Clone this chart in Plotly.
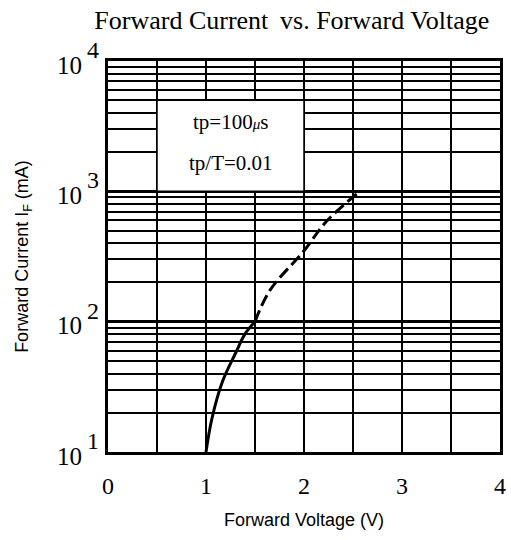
import math
import plotly.graph_objects as go

# ---- data ----
solid_v = [1.0, 1.06, 1.17, 1.30, 1.40, 1.50]
solid_i = [10, 18, 35, 57, 81, 100]
dashed_v = [1.50, 1.65, 2.00, 2.23, 2.57]
dashed_i = [100, 173, 350, 590, 1000]

x_ticks = [0, 1, 2, 3, 4]
y_ticks = [10, 100, 1000, 10000]
y_base = "10"
y_exponents = ["1", "2", "3", "4"]

title_text = "Forward Current \u2009vs. Forward Voltage"
x_title = "Forward Voltage (V)"
y_title = "Forward Current I<sub>F</sub> (mA)"
note_lines = ["tp=100<span style='font-size:15px'><i>\u03bc</i></span>s", "tp/T=0.01"]

SERIF = "Liberation Serif, Times New Roman, serif"
SANS = "Liberation Sans, Arial, sans-serif"

fig = go.Figure()
fig.add_trace(go.Scatter(x=solid_v, y=solid_i, mode="lines",
                         line=dict(color="black", width=3), line_shape="spline",
                         showlegend=False, hoverinfo="skip"))
fig.add_trace(go.Scatter(x=dashed_v, y=dashed_i, mode="lines",
                         line=dict(color="black", width=3, dash="12px,5px"), line_shape="spline",
                         showlegend=False, hoverinfo="skip"))

ymin, ymax = math.log10(y_ticks[0]), math.log10(y_ticks[-1])
def ypaper(v):
    return (math.log10(v) - ymin) / (ymax - ymin)

# white annotation box
fig.add_shape(type="rect", xref="paper", yref="paper",
              x0=0.5 / 4, x1=2.0 / 4, y0=ypaper(1000), y1=ypaper(5000),
              fillcolor="white", line=dict(color="black", width=1.5), layer="above")
fig.add_annotation(x=1.25, y=3.532, xref="x", yref="y", text=note_lines[0], showarrow=False,
                   font=dict(family=SERIF, size=21, color="black"))
fig.add_annotation(x=1.25, y=3.217, xref="x", yref="y", text=note_lines[1], showarrow=False,
                   font=dict(family=SERIF, size=21, color="black"))

# y tick labels as "10" with a full-size raised exponent
for v, e in zip(y_ticks, y_exponents):
    fig.add_annotation(x=0, y=math.log10(v), xref="paper", yref="y", text=y_base,
                       showarrow=False, xanchor="right", yanchor="middle",
                       xshift=-24, yshift=-4,
                       font=dict(family=SERIF, size=25, color="black"))
    fig.add_annotation(x=0, y=math.log10(v), xref="paper", yref="y", text=e,
                       showarrow=False, xanchor="right", yanchor="middle",
                       xshift=-7, yshift=11,
                       font=dict(family=SERIF, size=24, color="black"))

fig.update_layout(
    width=511, height=540,
    margin=dict(l=108, r=11, t=61, b=88, autoexpand=False),
    paper_bgcolor="white", plot_bgcolor="white",
    title=dict(text=title_text, x=0.571, xanchor="center", y=0.963, yanchor="middle",
               font=dict(family=SERIF, size=26, color="black")),
    xaxis=dict(range=[0, 4], tickvals=x_ticks, ticktext=[str(v) for v in x_ticks],
               showgrid=True, gridcolor="black", gridwidth=1.5,
               minor=dict(dtick=0.5, showgrid=True, gridcolor="black", gridwidth=1.5),
               showline=True, linecolor="black", linewidth=3, mirror=True,
               ticks="", ticklabelstandoff=10, zeroline=False, automargin=False,
               tickfont=dict(family=SERIF, size=24, color="black"),
               title=dict(text=x_title, standoff=16,
                          font=dict(family=SANS, size=18, color="black"))),
    yaxis=dict(type="log", range=[ymin, ymax], tickvals=y_ticks,
               showticklabels=False,
               showgrid=True, gridcolor="black", gridwidth=3,
               minor=dict(dtick="D1", showgrid=True, gridcolor="black", gridwidth=1.5),
               showline=True, linecolor="black", linewidth=3, mirror=True,
               ticks="", zeroline=False, automargin=False,
               title=dict(text=y_title, standoff=72,
                          font=dict(family=SANS, size=18, color="black"))),
)

fig.write_html("out.html")
